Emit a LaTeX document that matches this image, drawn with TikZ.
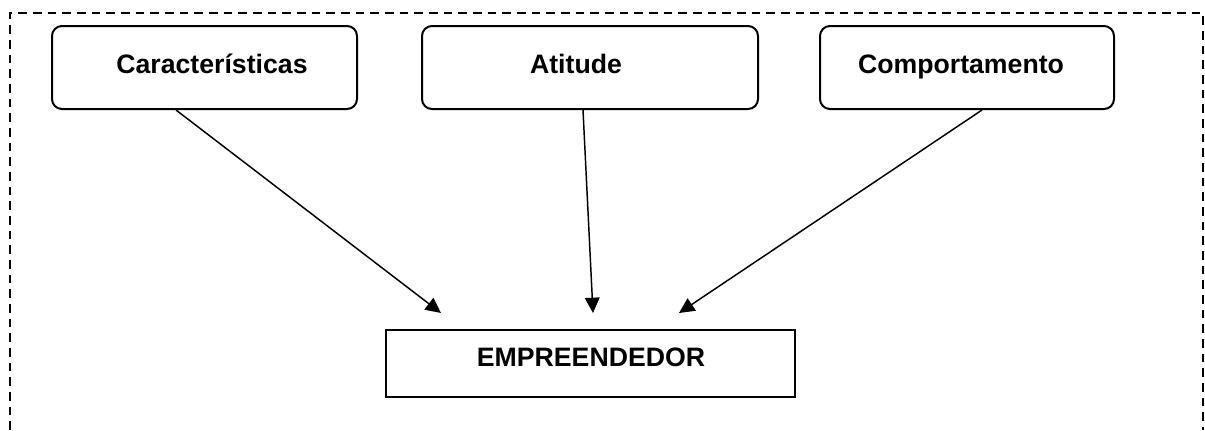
\documentclass[tikz,border=0pt]{standalone}
\usepackage{fontspec}
\setmainfont{Liberation Sans}
\usetikzlibrary{arrows.meta}
\begin{document}
\begin{tikzpicture}[x=0.75pt,y=-0.75pt,
  topbox/.style={draw,line width=1.5pt,rounded corners=7.5pt,inner sep=0pt},
  basebox/.style={draw,line width=1.5pt,inner sep=0pt},
  label/.style={anchor=base,inner sep=0pt,font=\fontsize{20}{24}\selectfont\bfseries},
  link/.style={line width=1.1pt,-{Triangle[length=11.5pt,width=11pt]}},
  frame/.style={line width=0.8pt,dash pattern=on 6.5pt off 4.5pt}]
\useasboundingbox (0,0) rectangle (1205,430);

% outer dashed frame, open at the bottom
\draw[frame] (10,430) -- (10,13) -- (1203,13) -- (1203,430);

% upper boxes
\node[topbox,minimum width=305*0.75pt,minimum height=83*0.75pt] (car) at (204.5,67.5) {};
\node[topbox,minimum width=336*0.75pt,minimum height=83*0.75pt] (ati) at (590,67.5) {};
\node[topbox,minimum width=294*0.75pt,minimum height=83*0.75pt] (comp) at (967,67.5) {};
\node[label] (tcar) at (212,73) {Características};
\node[label] (tati) at (576,73) {Atitude};
\node[label] (tcomp) at (961,73) {Comportamento};

% lower box
\node[basebox,minimum width=409*0.75pt,minimum height=67*0.75pt] (emp) at (590.5,363.5) {};
\node[label] (temp) at (591,366) {EMPREENDEDOR};

% arrow tips above the lower box
\coordinate (e1) at (441,313);
\coordinate (e2) at (593,313);
\coordinate (e3) at (679,313);

\draw[link] (car.south -| 176,0) -- (e1);
\draw[link] (ati.south -| 583,0) -- (e2);
\draw[link] (comp.south -| 982,0) -- (e3);
\end{tikzpicture}
\end{document}
